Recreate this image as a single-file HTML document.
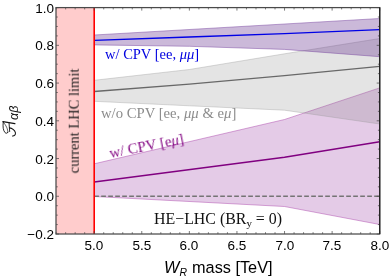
<!DOCTYPE html><html><head><meta charset="utf-8"><style>

html,body{margin:0;padding:0;background:#fff;}
#c{position:relative;width:390px;height:278px;overflow:hidden;background:#fff;font-family:"Liberation Sans",sans-serif;color:#000;}
.t{position:absolute;white-space:nowrap;line-height:1;will-change:transform;}
.xt{font-size:13.5px;transform:translateX(-50%);top:238.8px;}
.yt{font-size:13.5px;text-align:right;width:45px;left:8.6px;}
.s{font-family:"Liberation Serif",serif;}
i{font-style:italic;}

</style></head><body><div id="c">
<svg width="390" height="278" viewBox="0 0 390 278" style="position:absolute;left:0;top:0">
<rect x="0" y="0" width="390" height="278" fill="#ffffff"/>
<rect x="56.0" y="7.6" width="38.2" height="226.4" fill="#ffcccc"/>
<polygon points="94.2,163.8 284.5,119.5 379.7,87.9 379.7,224.5 284.5,206.5 94.2,196.5" fill="rgba(128,10,140,0.21)"/>
<polyline points="94.2,163.8 284.5,119.5 379.7,87.9" fill="none" stroke="rgba(170,70,170,0.6)" stroke-width="0.8"/>
<polyline points="94.2,196.5 284.5,206.5 379.7,224.5" fill="none" stroke="rgba(170,70,170,0.6)" stroke-width="0.8"/>

<polygon points="94.2,80.3 189.4,69.5 284.5,53.8 379.7,38.5 379.7,124.0 284.5,110.2 189.4,105.8 94.2,101.3" fill="rgba(120,120,120,0.20)"/>
<polyline points="94.2,80.3 189.4,69.5 284.5,53.8 379.7,38.5" fill="none" stroke="rgba(150,150,150,0.45)" stroke-width="0.8"/>
<polyline points="94.2,101.3 189.4,105.8 284.5,110.2 379.7,124.0" fill="none" stroke="rgba(150,150,150,0.45)" stroke-width="0.8"/>

<polygon points="94.2,35.0 379.7,18.5 379.7,56.7 284.5,49.4 189.4,46.3 94.2,44.9" fill="rgba(97,43,140,0.33)"/>
<polyline points="94.2,35.0 379.7,18.5" fill="none" stroke="rgba(120,70,160,0.6)" stroke-width="0.8"/>
<polyline points="94.2,44.9 189.4,46.3 284.5,49.4 379.7,56.7" fill="none" stroke="rgba(120,70,160,0.6)" stroke-width="0.8"/>

<line x1="94.2" y1="196.3" x2="379.7" y2="196.3" stroke="#747474" stroke-width="1.5" stroke-dasharray="4.7,2.3"/>
<polyline points="94.2,91.5 189.4,84.2 284.5,75.7 379.7,66.4" fill="none" stroke="#686868" stroke-width="1.35"/>
<polyline points="94.2,182.0 284.5,157.3 379.7,141.8" fill="none" stroke="#800080" stroke-width="1.6"/>
<polyline points="94.2,40.4 189.4,37.0 284.5,33.6 379.7,29.6" fill="none" stroke="#0000e6" stroke-width="1.45"/>
<line x1="94.2" y1="7.6" x2="94.2" y2="234.0" stroke="#f00" stroke-width="1.6"/>
<path d="M56.13 234.0 v-1.8 M56.13 7.6 v1.8 M65.65 234.0 v-1.8 M65.65 7.6 v1.8 M75.17 234.0 v-1.8 M75.17 7.6 v1.8 M84.68 234.0 v-1.8 M84.68 7.6 v1.8 M94.20 234.0 v-3.0 M94.20 7.6 v3.0 M103.72 234.0 v-1.8 M103.72 7.6 v1.8 M113.23 234.0 v-1.8 M113.23 7.6 v1.8 M122.75 234.0 v-1.8 M122.75 7.6 v1.8 M132.27 234.0 v-1.8 M132.27 7.6 v1.8 M141.78 234.0 v-3.0 M141.78 7.6 v3.0 M151.30 234.0 v-1.8 M151.30 7.6 v1.8 M160.82 234.0 v-1.8 M160.82 7.6 v1.8 M170.34 234.0 v-1.8 M170.34 7.6 v1.8 M179.85 234.0 v-1.8 M179.85 7.6 v1.8 M189.37 234.0 v-3.0 M189.37 7.6 v3.0 M198.89 234.0 v-1.8 M198.89 7.6 v1.8 M208.40 234.0 v-1.8 M208.40 7.6 v1.8 M217.92 234.0 v-1.8 M217.92 7.6 v1.8 M227.44 234.0 v-1.8 M227.44 7.6 v1.8 M236.95 234.0 v-3.0 M236.95 7.6 v3.0 M246.47 234.0 v-1.8 M246.47 7.6 v1.8 M255.99 234.0 v-1.8 M255.99 7.6 v1.8 M265.51 234.0 v-1.8 M265.51 7.6 v1.8 M275.02 234.0 v-1.8 M275.02 7.6 v1.8 M284.54 234.0 v-3.0 M284.54 7.6 v3.0 M294.06 234.0 v-1.8 M294.06 7.6 v1.8 M303.57 234.0 v-1.8 M303.57 7.6 v1.8 M313.09 234.0 v-1.8 M313.09 7.6 v1.8 M322.61 234.0 v-1.8 M322.61 7.6 v1.8 M332.12 234.0 v-3.0 M332.12 7.6 v3.0 M341.64 234.0 v-1.8 M341.64 7.6 v1.8 M351.16 234.0 v-1.8 M351.16 7.6 v1.8 M360.68 234.0 v-1.8 M360.68 7.6 v1.8 M370.19 234.0 v-1.8 M370.19 7.6 v1.8 M379.71 234.0 v-3.0 M379.71 7.6 v3.0 M56.0 234.00 h3.0 M379.7 234.00 h-3.0 M56.0 224.57 h1.8 M379.7 224.57 h-1.8 M56.0 215.14 h1.8 M379.7 215.14 h-1.8 M56.0 205.70 h1.8 M379.7 205.70 h-1.8 M56.0 196.27 h3.0 M379.7 196.27 h-3.0 M56.0 186.84 h1.8 M379.7 186.84 h-1.8 M56.0 177.40 h1.8 M379.7 177.40 h-1.8 M56.0 167.97 h1.8 M379.7 167.97 h-1.8 M56.0 158.54 h3.0 M379.7 158.54 h-3.0 M56.0 149.10 h1.8 M379.7 149.10 h-1.8 M56.0 139.67 h1.8 M379.7 139.67 h-1.8 M56.0 130.24 h1.8 M379.7 130.24 h-1.8 M56.0 120.80 h3.0 M379.7 120.80 h-3.0 M56.0 111.37 h1.8 M379.7 111.37 h-1.8 M56.0 101.93 h1.8 M379.7 101.93 h-1.8 M56.0 92.50 h1.8 M379.7 92.50 h-1.8 M56.0 83.07 h3.0 M379.7 83.07 h-3.0 M56.0 73.63 h1.8 M379.7 73.63 h-1.8 M56.0 64.20 h1.8 M379.7 64.20 h-1.8 M56.0 54.77 h1.8 M379.7 54.77 h-1.8 M56.0 45.33 h3.0 M379.7 45.33 h-3.0 M56.0 35.90 h1.8 M379.7 35.90 h-1.8 M56.0 26.47 h1.8 M379.7 26.47 h-1.8 M56.0 17.03 h1.8 M379.7 17.03 h-1.8 M56.0 7.60 h3.0 M379.7 7.60 h-3.0" stroke="#444" stroke-width="0.7" fill="none"/>
<rect x="56.0" y="7.6" width="323.7" height="226.4" fill="none" stroke="#4a4a4a" stroke-width="1.25"/>
<line x1="379.7" y1="7.6" x2="379.7" y2="234.0" stroke="#222" stroke-width="1.3"/>
</svg>
<div class="t xt" style="left:94.2px">5.0</div>
<div class="t xt" style="left:141.8px">5.5</div>
<div class="t xt" style="left:189.4px">6.0</div>
<div class="t xt" style="left:237.0px">6.5</div>
<div class="t xt" style="left:284.5px">7.0</div>
<div class="t xt" style="left:332.1px">7.5</div>
<div class="t xt" style="left:379.7px">8.0</div>
<div class="t yt" style="top:1.6px">1.0</div>
<div class="t yt" style="top:39.3px">0.8</div>
<div class="t yt" style="top:77.1px">0.6</div>
<div class="t yt" style="top:114.8px">0.4</div>
<div class="t yt" style="top:152.5px">0.2</div>
<div class="t yt" style="top:190.3px">0.0</div>
<div class="t yt" style="top:228.0px">−0.2</div>
<div class="t" id="xl" style="left:163.6px;top:259.0px;font-size:16.3px"><i>W</i><span style="font-size:10.4px;position:relative;top:3.0px;font-style:italic;margin-right:0.6px">R</span> mass [TeV]</div>
<div class="t s" id="bt" style="left:105.0px;top:46.7px;font-size:14.5px;color:#0000e0">w/ CPV [ee, <i>μμ</i>]</div>
<div class="t s" id="gt" style="left:100.8px;top:106px;font-size:14.7px;color:#8c8c8c">w/o CPV [ee, <i>μμ</i> &amp; e<i>μ</i>]</div>
<div class="t s" id="pt" style="left:110.8px;top:146.1px;font-size:15px;color:#860c86;transform-origin:0 100%;transform:rotate(-11.3deg)">w/ CPV [e<i>μ</i>]</div>
<div class="t s" id="ht" style="left:154.2px;top:211.3px;font-size:15.9px;color:#111">HE−LHC (BR<span style="font-size:11px;position:relative;top:3px">y</span> = 0)</div>
<div class="t s" id="ct" style="left:73.5px;top:120.5px;font-size:14.5px;color:#1a1a1a;transform:translate(-50%,-50%) rotate(-90deg);">current LHC limit</div>
<svg width="30" height="40" viewBox="0 0 30 40" style="position:absolute;left:0;top:100px;overflow:visible"><g transform="translate(1,19) scale(0.06826)" fill="none" stroke="#111" stroke-linecap="round" stroke-linejoin="round"><path d="M28,40 Q105,52 203,67" stroke-width="19"/><path d="M33,45 C24,110 32,172 60,200 C74,214 95,212 102,192" stroke-width="13"/><path d="M36,48 C70,90 106,150 99,198" stroke-width="10"/><path d="M118,58 L127,184" stroke-width="13"/><path d="M124,130 C160,135 202,165 211,200 C217,232 195,251 168,250" stroke-width="15"/></g></svg>
<div class="t" id="yl" style="left:7.6px;top:120.4px;font-size:12.5px;font-style:italic;color:#111;transform-origin:0 0;transform:rotate(-90deg);">αβ</div>
</div></body></html>
